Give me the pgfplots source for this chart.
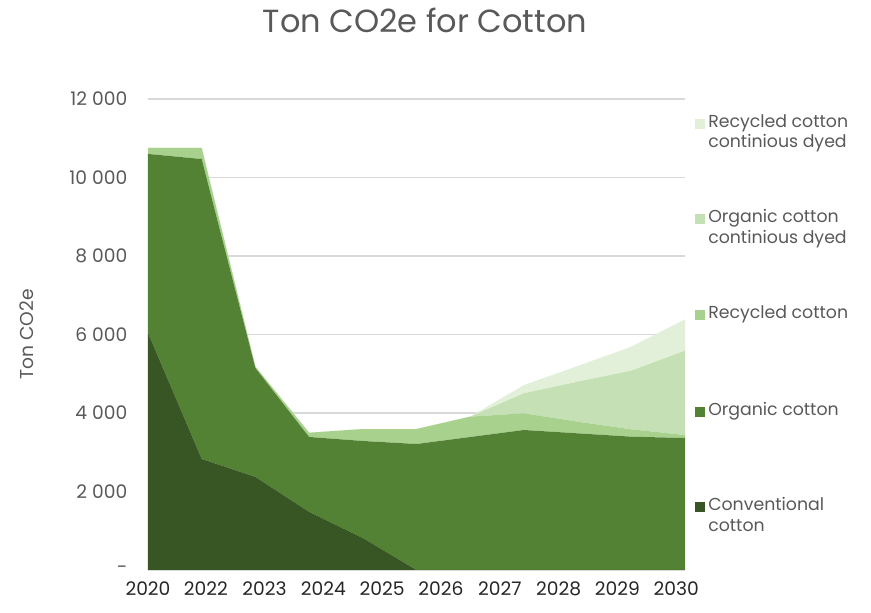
\documentclass[border=0pt]{standalone}
\usepackage{pgfplots}
\pgfplotsset{compat=1.18}
\usepackage{fontspec}
\setmainfont{Poppins}
\definecolor{conv}{HTML}{375623}
\definecolor{org}{HTML}{548235}
\definecolor{rec}{HTML}{A9D18E}
\definecolor{orgcd}{HTML}{C5E0B4}
\definecolor{reccd}{HTML}{E2F0D9}
\definecolor{txt}{HTML}{595959}
\definecolor{gridc}{HTML}{D9D9D9}
\pgfplotstableread{
x conv org rec orgcd reccd
0 6040 4560 152 0 0
1 2830 7640 282 0 0
2 2370 2776 34 0 0
3 1480 1909 109 0 0
4 815 2472 305 0 0
5 0 3210 382 0 0
6 0 3388 519 0 0
7 0 3567 425 510 211
8 0 3482 297 1020 398
9 0 3397 187 1495 610
10 0 3363 77 2148 799
}\datatable
\begin{document}
\begin{tikzpicture}
\useasboundingbox (0pt,0pt) rectangle (653.25pt,459.75pt);
\begin{axis}[
  at={(111pt,32.25pt)}, anchor=south west,
  scale only axis, width=402.75pt, height=353.25pt,
  xmin=0, xmax=10, ymin=0, ymax=12000,
  stack plots=y, area style, axis on top=false,
  axis line style={draw=none},
  ymajorgrids, xmajorgrids=false,
  grid style={draw=gridc, line width=1.2pt},
  scaled y ticks=false,
  ytick={0,2000,4000,6000,8000,10000,12000},
  yticklabels={-,2 000,4 000,6 000,8 000,10 000,12 000},
  xtick={0,1.076,2.171,3.266,4.361,5.456,6.551,7.646,8.741,9.836},
  xticklabels={2020,2022,2023,2024,2025,2026,2027,2028,2029,2030},
  major tick length=0pt,
  y tick label style={font=\fontsize{14}{16}\selectfont, text=txt, xshift=-12pt},
  x tick label style={font=\fontsize{14}{16}\selectfont, text=black!85, yshift=-5pt},
  ylabel={Ton CO2e}, ylabel style={font=\fontsize{14}{16}\selectfont, text=txt, yshift=20pt},
  clip=false,
]
\addplot[fill=conv, draw=none] table[x=x,y=conv]{\datatable} \closedcycle;
\addplot[fill=org, draw=none] table[x=x,y=org]{\datatable} \closedcycle;
\addplot[fill=rec, draw=none] table[x=x,y=rec]{\datatable} \closedcycle;
\addplot[fill=orgcd, draw=none] table[x=x,y=orgcd]{\datatable} \closedcycle;
\addplot[fill=reccd, draw=none] table[x=x,y=reccd]{\datatable} \closedcycle;
\draw[gridc, line width=1.2pt] (rel axis cs:0,0) -- (rel axis cs:1,0);
\end{axis}
\node[text=txt, font=\fontsize{24}{28}\selectfont] at (318.75pt,444.75pt) {Ton CO2e for Cotton};
\begin{scope}[every node/.style={anchor=north west, text=txt, font=\fontsize{13}{15.5}\selectfont, align=left, inner sep=0pt}]
\fill[reccd] (521.25pt,363pt) rectangle (528.75pt,370.5pt);
\node at (531pt,374.25pt) {Recycled cotton\\continious dyed};
\fill[orgcd] (521.25pt,291.75pt) rectangle (528.75pt,299.25pt);
\node at (531pt,303pt) {Organic cotton\\continious dyed};
\fill[rec] (521.25pt,219.75pt) rectangle (528.75pt,227.25pt);
\node at (531pt,231pt) {Recycled cotton};
\fill[org] (521.25pt,147pt) rectangle (528.75pt,154.5pt);
\node at (531pt,158.25pt) {Organic cotton};
\fill[conv] (521.25pt,75.75pt) rectangle (528.75pt,83.25pt);
\node at (531pt,87pt) {Conventional\\cotton};
\end{scope}
\end{tikzpicture}
\end{document}
